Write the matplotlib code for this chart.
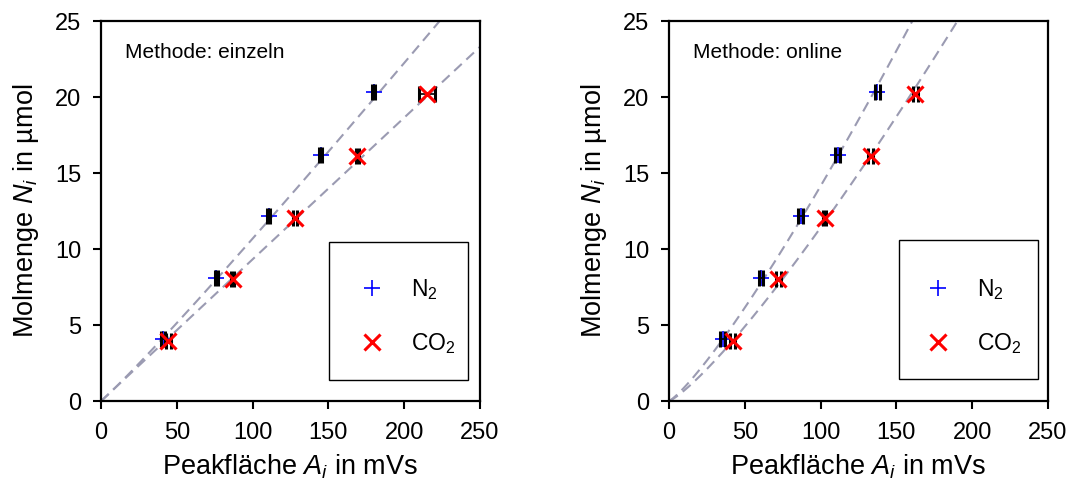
import numpy as np
import matplotlib
matplotlib.use("Agg")
import matplotlib.pyplot as plt
from matplotlib.lines import Line2D
from matplotlib.patches import Rectangle

plt.rcParams['font.family'] = ['Liberation Sans', 'DejaVu Sans']
plt.rcParams['mathtext.fontset'] = 'custom'
plt.rcParams['mathtext.rm'] = 'Liberation Sans'
plt.rcParams['mathtext.it'] = 'Liberation Sans:italic'

# Molar amounts (µmol) of the calibration standards
n_n2 = [4.05, 8.1, 12.15, 16.2, 20.3]
n_co2 = [3.95, 8.0, 12.05, 16.1, 20.2]

# Method "einzeln": peak areas (mVs) and their spread
einzeln_a_n2 = [41.0, 76.0, 110.5, 145.0, 180.0]
einzeln_err_n2 = [1.5, 1.0, 1.0, 1.0, 1.0]
einzeln_a_co2 = [44.5, 87.0, 128.0, 169.0, 215.0]
einzeln_err_co2 = [1.5, 1.0, 1.5, 1.0, 5.0]

# Method "online": peak areas (mVs) and their spread
online_a_n2 = [35.4, 60.7, 86.9, 111.3, 137.4]
online_err_n2 = [1.5, 1.0, 1.5, 1.5, 1.5]
online_a_co2 = [42.0, 72.1, 102.9, 133.1, 162.6]
online_err_co2 = [1.5, 1.5, 1.0, 1.5, 1.5]

# Power-law trend lines N = c * A^b  (c, b)
einzeln_trend_n2 = (0.0819, 1.0577)
einzeln_trend_co2 = (0.0932, 1.0)
online_trend_n2 = (0.0552, 1.2042)
online_trend_co2 = (0.0414, 1.22)

x_ticks = [0, 50, 100, 150, 200, 250]
y_ticks = [0, 5, 10, 15, 20, 25]

FIT_COLOR = '#9b9bb2'
N2_STYLE = dict(ls='none', marker='+', ms=12, mew=1.2, color='#0000ff')
CO2_STYLE = dict(ls='none', marker='x', ms=12, mew=2.2, color='#ff0000')


def draw_panel(ax, title, a_n2, e_n2, a_co2, e_co2, trends,
               frame_box, legend_center):
    xs = np.linspace(0, 260, 300)
    for c, b in trends:
        ax.plot(xs, c * xs ** b, color=FIT_COLOR, lw=1.5, dashes=(5, 3),
                zorder=1)

    ax.plot(a_n2, n_n2, zorder=2, **N2_STYLE)
    ax.errorbar(a_n2, n_n2, xerr=e_n2, fmt='none', ecolor='black',
                elinewidth=1.2, capsize=6, capthick=2.2, zorder=3)
    ax.errorbar(a_co2, n_co2, xerr=e_co2, fmt='none', ecolor='black',
                elinewidth=1.2, capsize=6, capthick=2.2, zorder=3)
    ax.plot(a_co2, n_co2, zorder=4, **CO2_STYLE)

    ax.set_xlim(0, 250)
    ax.set_ylim(0, 25)
    ax.set_xticks(x_ticks)
    ax.set_yticks(y_ticks)
    ax.tick_params(direction='out', length=6, width=1.5, labelsize=17)
    ax.tick_params(axis='y', pad=8)
    ax.tick_params(axis='x', pad=9)
    for s in ax.spines.values():
        s.set_linewidth(1.6)
    ax.set_xlabel('Peakfläche $A_i$ in mVs', fontsize=19.5, labelpad=6)
    ax.set_ylabel('Molmenge $N_i$ in µmol', fontsize=19.5, labelpad=10)
    ax.text(0.063, 0.918, title, transform=ax.transAxes, fontsize=15,
            va='center', ha='left')

    x0, y0, w, h = frame_box
    ax.add_patch(Rectangle((x0, y0), w, h, transform=ax.transAxes,
                           fill=True, facecolor='white', edgecolor='black',
                           lw=1.0, zorder=5))
    handles = [Line2D([], [], **N2_STYLE), Line2D([], [], **CO2_STYLE)]
    leg = ax.legend(handles, ['N$_2$', 'CO$_2$'], loc='center',
                    bbox_to_anchor=legend_center, fontsize=16.5,
                    frameon=False, handlelength=1.0, handletextpad=1.2,
                    labelspacing=1.25, borderpad=0.0)
    leg.set_zorder(6)


fig = plt.figure(figsize=(10.69, 4.93), dpi=100)
ax1 = fig.add_axes([0.0945, 0.1866, 0.3545, 0.7708])
ax2 = fig.add_axes([0.6258, 0.1866, 0.3545, 0.7708])

draw_panel(ax1, 'Methode: einzeln', einzeln_a_n2, einzeln_err_n2,
           einzeln_a_co2, einzeln_err_co2,
           (einzeln_trend_n2, einzeln_trend_co2),
           (0.602, 0.055, 0.367, 0.364), (0.81, 0.222))
draw_panel(ax2, 'Methode: online', online_a_n2, online_err_n2,
           online_a_co2, online_err_co2,
           (online_trend_n2, online_trend_co2),
           (0.606, 0.058, 0.368, 0.365), (0.805, 0.222))

fig.savefig('out.png', dpi=100)
